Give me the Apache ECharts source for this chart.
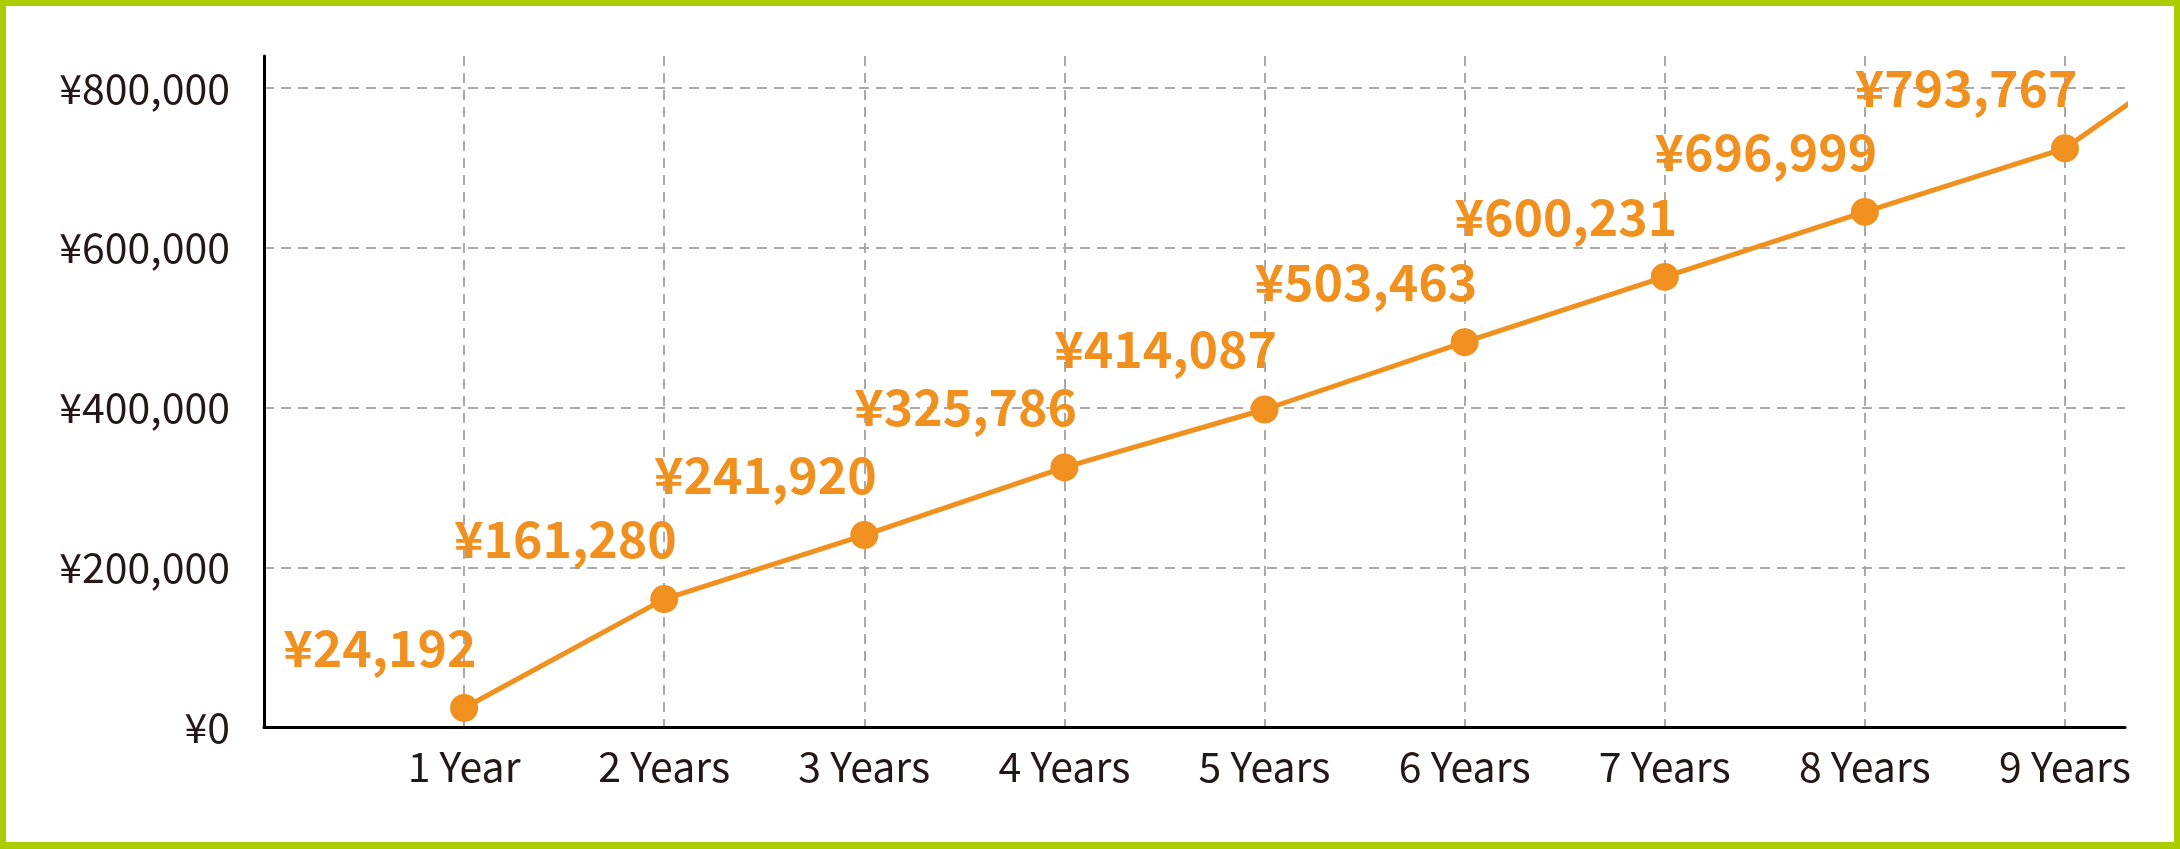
<!DOCTYPE html>
<html>
<head>
<meta charset="utf-8">
<script src="https://cdn.jsdelivr.net/npm/echarts@6/dist/echarts.min.js"></script>
<style>
  html, body { margin: 0; padding: 0; background: #fff; }
  #wrap { position: relative; width: 2180px; height: 849px; }
  #main { width: 2180px; height: 849px; }
  #frame {
    position: absolute; left: 0; top: 0; right: 0; bottom: 0;
    border-style: solid; border-color: #aacc00;
    border-width: 6px 6px 7px 6px;
    pointer-events: none;
  }
</style>
</head>
<body>
<div id="wrap">
  <div id="main"></div>
  <div id="frame"></div>
</div>
<script>
// x positions (years); the 10th point lies past the axis end and is clipped
var years = [1, 2, 3, 4, 5, 6, 7, 8, 9, 10];
// plotted heights
var balance = [24380, 160650, 240660, 325300, 397800, 482000, 563600, 644900, 724500, 900000];
// printed value labels
var valueLabels = ['¥24,192', '¥161,280', '¥241,920', '¥325,786', '¥414,087',
                   '¥503,463', '¥600,231', '¥696,999', '¥793,767', ''];
var xTickLabels = ['1 Year', '2 Years', '3 Years', '4 Years', '5 Years',
                   '6 Years', '7 Years', '8 Years', '9 Years'];

var orange = '#f0901f';
var ink = '#231815';
var font = '"Noto Sans CJK JP", "Noto Sans", sans-serif';

var points = [];
for (var i = 0; i < years.length; i++) {
  points.push([years[i], balance[i]]);
}

var myChart = echarts.init(document.getElementById('main'));

var option = {
  backgroundColor: '#ffffff',
  animation: false,
  grid: {
    left: 264,
    right: 55,
    top: 56,
    bottom: 121.5,
    containLabel: false
  },
  xAxis: {
    type: 'value',
    min: 0,
    max: 9.3,
    interval: 1,
    axisLine: { show: true, onZero: false, lineStyle: { color: '#000', width: 3 } },
    axisTick: { show: false },
    axisLabel: {
      margin: 18,
      color: ink,
      fontFamily: font,
      fontSize: 41,
      showMaxLabel: false,
      formatter: function (v) {
        var k = Math.round(v);
        if (Math.abs(v - k) > 1e-6 || k < 1 || k > xTickLabels.length) return '';
        return xTickLabels[k - 1];
      }
    },
    splitLine: {
      show: true,
      showMinLine: false,
      showMaxLine: false,
      lineStyle: { color: '#aaaaaa', width: 2, type: [10, 7] }
    }
  },
  yAxis: {
    type: 'value',
    min: 0,
    max: 840000,
    interval: 200000,
    axisLine: { show: true, lineStyle: { color: '#000', width: 3 } },
    axisTick: { show: false },
    axisLabel: {
      margin: 34,
      color: ink,
      fontFamily: font,
      fontSize: 41,
      showMaxLabel: false,
      formatter: function (v) {
        if (v % 200000 !== 0) return '';
        return '¥' + v.toLocaleString('en-US');
      }
    },
    splitLine: {
      show: true,
      showMinLine: false,
      showMaxLine: false,
      lineStyle: { color: '#aaaaaa', width: 2, type: [10, 7] }
    }
  },
  series: [
    {
      type: 'line',
      data: points,
      clip: true,
      symbol: 'circle',
      symbolSize: 28,
      lineStyle: { color: orange, width: 5 },
      itemStyle: { color: orange },
      label: {
        show: true,
        position: [26.5, -46],
        align: 'right',
        verticalAlign: 'middle',
        color: orange,
        fontFamily: font,
        fontWeight: 'bold',
        fontSize: 50,
        formatter: function (p) {
          return valueLabels[p.dataIndex];
        }
      }
    }
  ]
};

myChart.setOption(option);
</script>
</body>
</html>
